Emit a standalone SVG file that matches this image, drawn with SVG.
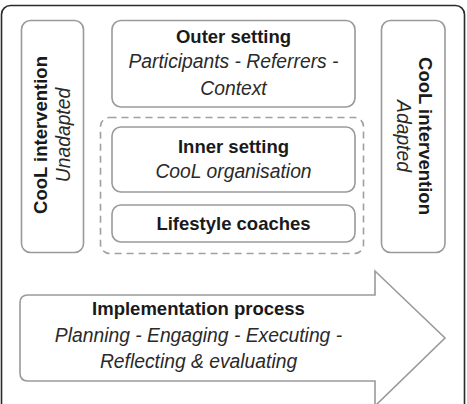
<svg xmlns="http://www.w3.org/2000/svg" width="467" height="404" viewBox="0 0 467 404">
<style>
.box{fill:#fff;stroke:#9a9a9a;stroke-width:1.6}
.b{font-family:"Liberation Sans",Arial,sans-serif;font-weight:bold;font-size:18.5px;fill:#1a1a1a}
.i{font-family:"Liberation Sans",Arial,sans-serif;font-style:italic;font-size:19.3px;fill:#2a2a2a}
</style>
<rect x="0" y="0" width="467" height="404" fill="#fff"/>
<rect x="1.5" y="5.5" width="463" height="420" rx="9" fill="#fff" stroke="#2a2a2a" stroke-width="1.6"/>
<g id="left">
<rect class="box" x="21.5" y="20.5" width="62" height="232" rx="9"/>
<text class="b" text-anchor="middle" transform="translate(47,135) rotate(-90)">CooL intervention</text>
<text class="i" text-anchor="middle" transform="translate(70,135) rotate(-90)">Unadapted</text>
</g>
<g id="outer">
<rect class="box" x="112" y="20.5" width="243" height="86.5" rx="9"/>
<text class="b" x="233.5" y="43" text-anchor="middle">Outer setting</text>
<text class="i" x="233.5" y="68" text-anchor="middle">Participants - Referrers -</text>
<text class="i" x="233.5" y="95" text-anchor="middle">Context</text>
</g>
<g id="innerGroup">
<rect x="100.5" y="117.5" width="263" height="136" rx="9" fill="none" stroke="#a0a0a0" stroke-width="1.6" stroke-dasharray="7,5"/>
</g>
<g id="inner">
<rect class="box" x="112" y="127" width="243" height="65" rx="9"/>
<text class="b" x="233.5" y="153" text-anchor="middle">Inner setting</text>
<text class="i" x="233.5" y="178" text-anchor="middle">CooL organisation</text>
</g>
<g id="coaches">
<rect class="box" x="112" y="205" width="243" height="37" rx="9"/>
<text class="b" x="233.5" y="230" text-anchor="middle">Lifestyle coaches</text>
</g>
<g id="right">
<rect class="box" x="381.5" y="20.5" width="63.5" height="232" rx="9"/>
<text class="b" text-anchor="middle" transform="translate(419,136) rotate(90)">CooL intervention</text>
<text class="i" text-anchor="middle" transform="translate(397,136) rotate(90)">Adapted</text>
</g>
<g id="process">
<path class="box" d="M28,295 H375 V271 L445,338 L375,406 V381 H28 Q20,381 20,373 V303 Q20,295 28,295 Z"/>
<text class="b" x="198.5" y="315" text-anchor="middle">Implementation process</text>
<text class="i" x="198.5" y="342" text-anchor="middle">Planning - Engaging - Executing -</text>
<text class="i" x="198.5" y="368" text-anchor="middle">Reflecting &amp; evaluating</text>
</g>
<g id="connectors"></g>
</svg>
